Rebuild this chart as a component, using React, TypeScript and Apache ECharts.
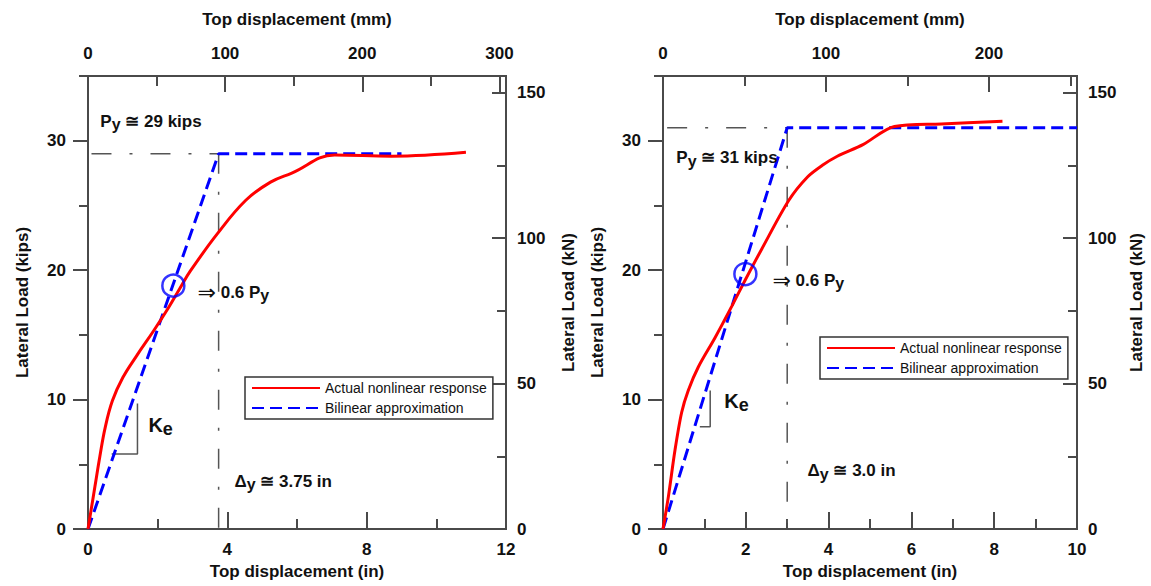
import React, { useEffect, useRef } from "react";
import * as echarts from "echarts";

// ---------- data (inches / kips) ----------
const IN_TO_MM = 25.4;
const KIPS_TO_KN = 4.448;
const KIPS_MAX = 35;

// left specimen
const leftInMax = 12;
const leftActual: number[][] = [
  [0, 0], [0.2, 3.3], [0.34, 5.6], [0.49, 7.8], [0.7, 9.9], [1.0, 11.7], [1.4, 13.4],
  [1.88, 15.3], [2.31, 17.1], [2.64, 18.6], [2.93, 19.9], [3.71, 22.8], [4.53, 25.4],
  [5.24, 26.8], [5.85, 27.5], [7.08, 28.9], [8.71, 28.8], [10.85, 29.1],
];
const leftBilinear: number[][] = [[0, 0], [3.75, 29], [9.0, 29]];
const leftYieldH: number[][] = [[0.1, 29], [3.75, 29]];
const leftYieldV: number[][] = [[3.75, 29], [3.75, 0]];
const leftKe: number[][] = [[0.68, 5.8], [1.42, 5.8], [1.42, 9.7]];
const leftCircle: number[] = [2.45, 18.8];

// right specimen
const rightInMax = 10;
const rightActual: number[][] = [
  [0, 0], [0.13, 2.5], [0.29, 6.1], [0.45, 9.0], [0.61, 10.7], [0.85, 12.5], [1.26, 14.8],
  [1.66, 17.2], [1.98, 19.2], [2.38, 21.6], [3.04, 25.4], [3.49, 27.2], [3.85, 28.1],
  [4.21, 28.8], [4.83, 29.7], [5.59, 31.1], [6.72, 31.3], [8.2, 31.5],
];
const rightBilinear: number[][] = [[0, 0], [3.0, 31], [10, 31]];
const rightYieldH: number[][] = [[0.1, 31], [3.0, 31]];
const rightYieldV: number[][] = [[3.0, 31], [3.0, 0]];
const rightKe: number[][] = [[0.89, 7.9], [1.14, 7.9], [1.14, 10.7]];
const rightCircle: number[] = [1.99, 19.7];

// tick values
const leftInLabels = [0, 4, 8, 12];
const leftInMinor = [2, 6, 10];
const leftInMajor = [4, 8];
const leftMmLabels = [0, 100, 200, 300];
const leftMmMinor = [50, 150, 250];
const leftMmMajor = [100, 200, 300];
const rightInLabels = [0, 2, 4, 6, 8, 10];
const rightInMinor = [1, 3, 5, 7, 9];
const rightInMajor = [2, 4, 6, 8];
const rightMmLabels = [0, 100, 200];
const rightMmMinor = [50, 150, 250];
const rightMmMajor = [100, 200];
const kipsLabels = [0, 10, 20, 30];
const kipsMinor = [5, 15, 25, 35];
const kipsMajor = [0, 10, 20, 30];
const knLabels = [0, 50, 100, 150];
const knMinor = [25, 75, 125];
const knMajor = [50, 100, 150];

// annotations: anchor (in, kips) = left-middle of the text
const leftNotes = [
  { at: [0.34, 31.5], text: "{a|P}{s|y}{a| ≅ 29 kips}" },
  { at: [3.13, 18.3], text: "{r|⇒}{a| 0.6 P}{s|y}" },
  { at: [1.72, 8.0], text: "{k|K}{ks|e}" },
  { at: [4.19, 3.7], text: "{a|Δ}{s|y}{a| ≅ 3.75 in}" },
];
const rightNotes = [
  { at: [0.31, 28.7], text: "{a|P}{s|y}{a| ≅ 31 kips}" },
  { at: [2.63, 19.2], text: "{r|⇒}{a| 0.6 P}{s|y}" },
  { at: [1.47, 9.9], text: "{k|K}{ks|e}" },
  { at: [3.48, 4.5], text: "{a|Δ}{s|y}{a| ≅ 3.0 in}" },
];

const ACTUAL = "Actual nonlinear response";
const BILINEAR = "Bilinear approximation";

const FONT = "Liberation Sans, Arial, Helvetica, sans-serif";
const AXIS_COLOR = "#4a4a4a";
const TEXT_COLOR = "#111111";

function xAxesFor(gridIndex: number, inMax: number, inLabels: number[], inMinor: number[], inMajor: number[], mmLabels: number[], mmMinor: number[], mmMajor: number[]) {
  const lineStyle = { color: AXIS_COLOR, width: 2 };
  const labelStyle = { color: TEXT_COLOR, fontSize: 17, fontWeight: "bold" as const, fontFamily: FONT };
  const nameStyle = { color: TEXT_COLOR, fontSize: 17, fontWeight: "bold" as const, fontFamily: FONT };
  const mmMax = inMax * IN_TO_MM;
  return [
    {
      gridIndex, type: "value", position: "bottom", min: 0, max: inMax,
      axisLine: { show: false, onZero: false }, splitLine: { show: false },
      axisTick: { show: true, inside: true, length: 10, customValues: inMinor, lineStyle: { ...lineStyle } },
      axisLabel: { show: true, customValues: inLabels, margin: 12, ...labelStyle },
      name: "Top displacement (in)", nameLocation: "middle", nameGap: 34, nameTextStyle: nameStyle,
    },
    {
      gridIndex, type: "value", position: "bottom", min: 0, max: inMax,
      axisLine: { show: false, onZero: false }, splitLine: { show: false },
      axisTick: { show: true, inside: true, length: 17, customValues: inMajor, lineStyle: { ...lineStyle } },
      axisLabel: { show: false },
    },
    {
      gridIndex, type: "value", position: "top", min: 0, max: mmMax,
      axisLine: { show: false, onZero: false }, splitLine: { show: false },
      axisTick: { show: true, inside: true, length: 10, customValues: mmMinor, lineStyle: { ...lineStyle } },
      axisLabel: { show: true, customValues: mmLabels, margin: 14, ...labelStyle },
      name: "Top displacement (mm)", nameLocation: "middle", nameGap: 48, nameTextStyle: nameStyle,
    },
    {
      gridIndex, type: "value", position: "top", min: 0, max: mmMax,
      axisLine: { show: false, onZero: false }, splitLine: { show: false },
      axisTick: { show: true, inside: true, length: 16, customValues: mmMajor, lineStyle: { ...lineStyle } },
      axisLabel: { show: false },
    },
  ];
}

function yAxesFor(gridIndex: number, leftGap: number, rightGap: number) {
  const lineStyle = { color: AXIS_COLOR, width: 2 };
  const labelStyle = { color: TEXT_COLOR, fontSize: 17, fontWeight: "bold" as const, fontFamily: FONT };
  const nameStyle = { color: TEXT_COLOR, fontSize: 17, fontWeight: "bold" as const, fontFamily: FONT };
  const knMax = KIPS_MAX * KIPS_TO_KN;
  return [
    {
      gridIndex, type: "value", position: "left", min: 0, max: KIPS_MAX,
      axisLine: { show: false, onZero: false }, splitLine: { show: false },
      axisTick: { show: true, inside: false, length: 9, customValues: kipsMinor, lineStyle: { ...lineStyle } },
      axisLabel: { show: true, customValues: kipsLabels, margin: 22, ...labelStyle },
      name: "Lateral Load (kips)", nameLocation: "middle", nameRotate: 90, nameGap: leftGap, nameTextStyle: nameStyle,
    },
    {
      gridIndex, type: "value", position: "left", min: 0, max: KIPS_MAX,
      axisLine: { show: false, onZero: false }, splitLine: { show: false },
      axisTick: { show: true, inside: false, length: 15, customValues: kipsMajor, lineStyle: { ...lineStyle } },
      axisLabel: { show: false },
    },
    {
      gridIndex, type: "value", position: "right", min: 0, max: knMax,
      axisLine: { show: false, onZero: false }, splitLine: { show: false },
      axisTick: { show: true, inside: true, length: 9, customValues: knMinor, lineStyle: { ...lineStyle } },
      axisLabel: { show: true, customValues: knLabels, margin: 11, ...labelStyle },
      name: "Lateral Load (kN)", nameLocation: "middle", nameRotate: 90, nameGap: rightGap, nameTextStyle: nameStyle,
    },
    {
      gridIndex, type: "value", position: "right", min: 0, max: knMax,
      axisLine: { show: false, onZero: false }, splitLine: { show: false },
      axisTick: { show: true, inside: true, length: 14, customValues: knMajor, lineStyle: { ...lineStyle } },
      axisLabel: { show: false },
    },
  ];
}

const richText = {
  a: { fontSize: 17, fontWeight: "bold" as const, color: TEXT_COLOR, fontFamily: FONT, lineHeight: 22 },
  r: { fontSize: 22, color: TEXT_COLOR, fontFamily: "DejaVu Sans, sans-serif", lineHeight: 22 },
  s: { fontSize: 16, fontWeight: "bold" as const, color: TEXT_COLOR, fontFamily: FONT, lineHeight: 22, padding: [7, 0, 0, 0] },
  k: { fontSize: 20, fontWeight: "bold" as const, color: TEXT_COLOR, fontFamily: FONT, lineHeight: 24 },
  ks: { fontSize: 18, fontWeight: "bold" as const, color: TEXT_COLOR, fontFamily: FONT, lineHeight: 24, padding: [8, 0, 0, 0] },
};

function seriesFor(ax: number, actual: number[][], bilinear: number[][], yh: number[][], yv: number[][], ke: number[][], circle: number[], notes: { at: number[]; text: string }[], smooth: number) {
  const dashDot = { color: "#555", width: 1.5, type: [20, 18, 3, 18] as number[] };
  return [
    {
      type: "line", name: "yield-h", xAxisIndex: ax, yAxisIndex: ax, data: yh, symbol: "none",
      lineStyle: dashDot, silent: true, z: 1,
    },
    {
      type: "line", name: "yield-v", xAxisIndex: ax, yAxisIndex: ax, data: yv, symbol: "none",
      lineStyle: dashDot, silent: true, z: 1,
    },
    {
      type: "line", name: "ke", xAxisIndex: ax, yAxisIndex: ax, data: ke, symbol: "none",
      lineStyle: { color: "#555", width: 1.5 }, silent: true, z: 1,
    },
    {
      type: "line", name: BILINEAR, xAxisIndex: ax, yAxisIndex: ax, data: bilinear, symbol: "none",
      lineStyle: { color: "#0000ff", width: 3, type: [12, 6] }, itemStyle: { color: "#0000ff" }, z: 3,
    },
    {
      type: "line", name: ACTUAL, xAxisIndex: ax, yAxisIndex: ax, data: actual, symbol: "none", smooth,
      lineStyle: { color: "#ff0000", width: 3 }, itemStyle: { color: "#ff0000" }, z: 4,
    },
    {
      type: "scatter", name: "circle", xAxisIndex: ax, yAxisIndex: ax, data: [circle], symbol: "circle", symbolSize: 22,
      itemStyle: { color: "rgba(0,0,0,0)", borderColor: "#0000ff", borderWidth: 2.5 }, z: 5, silent: true,
    },
    {
      type: "scatter", name: "notes", xAxisIndex: ax, yAxisIndex: ax, symbolSize: 1, silent: true, z: 6,
      itemStyle: { color: "rgba(0,0,0,0)" },
      data: notes.map((n) => ({
        value: n.at,
        label: {
          show: true, position: "right", distance: 0, formatter: n.text, rich: richText,
          color: TEXT_COLOR, opacity: 1, textBorderWidth: 0,
        },
      })),
    },
  ];
}

function legendAt(left: number, top: number) {
  return {
    orient: "vertical", left, top, data: [ACTUAL, BILINEAR],
    itemWidth: 68, itemHeight: 14, itemGap: 6, padding: [4, 6, 4, 6],
    borderColor: "#333", borderWidth: 1.5, backgroundColor: "#fff",
    itemStyle: { opacity: 0, borderWidth: 0 },
    textStyle: { fontSize: 14, color: TEXT_COLOR, fontFamily: FONT },
    selectedMode: false,
  };
}

export default function App() {
  const ref = useRef<HTMLDivElement>(null);
  useEffect(() => {
    if (!ref.current) return;
    const chart = echarts.init(ref.current, null, { renderer: "svg" });
    const gridBase = {
      show: true, borderColor: AXIS_COLOR, borderWidth: 2, backgroundColor: "rgba(0,0,0,0)",
      outerBoundsMode: "none", containLabel: false,
    };
    const option: any = {
      animation: false,
      backgroundColor: "#fff",
      textStyle: { fontFamily: FONT },
      grid: [
        { ...gridBase, left: 88, top: 76, width: 418, height: 453 },
        { ...gridBase, left: 663, top: 76, width: 414, height: 453 },
      ],
      xAxis: [
        ...xAxesFor(0, leftInMax, leftInLabels, leftInMinor, leftInMajor, leftMmLabels, leftMmMinor, leftMmMajor),
        ...xAxesFor(1, rightInMax, rightInLabels, rightInMinor, rightInMajor, rightMmLabels, rightMmMinor, rightMmMajor),
      ],
      yAxis: [...yAxesFor(0, 57, 54), ...yAxesFor(1, 57, 51)],
      legend: [legendAt(245, 377), legendAt(820, 337)],
      series: [
        ...seriesFor(0, leftActual, leftBilinear, leftYieldH, leftYieldV, leftKe, leftCircle, leftNotes, 0.4),
        ...seriesFor(4, rightActual, rightBilinear, rightYieldH, rightYieldV, rightKe, rightCircle, rightNotes, 0.3),
      ],
    };
    chart.setOption(option);
    return () => chart.dispose();
  }, []);
  return (
    <div
      ref={ref}
      style={{ position: "fixed", left: 0, top: 0, width: 1151, height: 586, background: "#fff" }}
    />
  );
}
